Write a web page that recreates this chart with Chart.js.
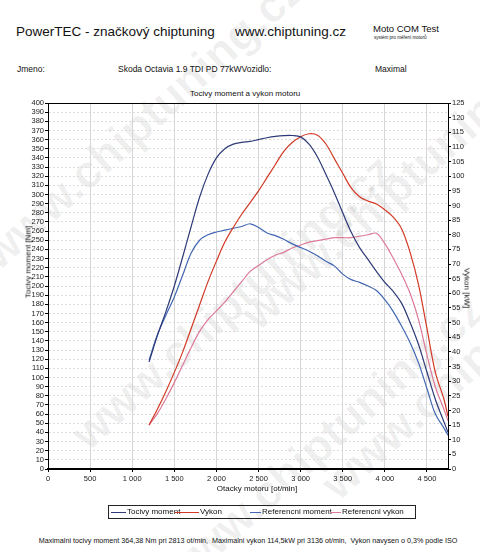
<!DOCTYPE html>
<html>
<head>
<meta charset="utf-8">
<script src="https://cdn.jsdelivr.net/npm/chart.js@4.4.1/dist/chart.umd.min.js"></script>
<style>
  html, body { margin: 0; padding: 0; background: #fff; }
  body { width: 480px; height: 552px; position: relative; overflow: hidden; font-family: Arial, "Liberation Sans", sans-serif; color: #111; }
  .t { position: absolute; white-space: nowrap; }
  .wm { position: absolute; white-space: nowrap; font-weight: bold; font-size: 46px; color: rgba(0,0,0,0.06); transform: rotate(-42deg); transform-origin: left top; }
  #wrap { position: absolute; left: 0; top: 88px; width: 480px; height: 410px; }
  .legend { position: absolute; left: 108px; top: 505px; width: 306px; height: 12px; border: 1px solid #222; font-size: 8px; }
  .legend span { position: absolute; top: 1px; }
  .legend i { position: absolute; top: 6px; height: 0; border-top: 1.5px solid; }
</style>
</head>
<body>
<div class="wm" style="left:-30px; top:240px;">www.chiptuning.cz</div>
<div class="wm" style="left:60px; top:420px;">www.chiptuning.cz</div>
<div class="wm" style="left:150px; top:560px;">www.chiptuning.cz</div>
<div class="wm" style="left:230px; top:300px;">www.chiptuning.cz</div>
<div class="wm" style="left:310px; top:470px;">www.chiptuning.cz</div>

<div class="t" style="left:16px; top:24px; font-size:13.5px;">PowerTEC - značkový chiptuning</div>
<div class="t" style="left:235px; top:24px; font-size:13.5px;">www.chiptuning.cz</div>
<div class="t" style="left:373px; top:23px; font-size:9.5px;">Moto COM Test</div>
<div class="t" style="left:374px; top:35px; font-size:4.5px;">systém pro měření motorů</div>
<div class="t" style="left:17px; top:64px; font-size:8.5px;">Jmeno:</div>
<div class="t" style="left:118px; top:64px; font-size:8.5px;">Skoda Octavia 1.9 TDI PD 77kWVozidlo:</div>
<div class="t" style="left:375px; top:64px; font-size:8.5px;">Maximal</div>
<div class="t" style="left:190px; top:89px; font-size:8px;">Tocivy moment a vykon motoru</div>

<div id="wrap"><canvas id="dyno"></canvas></div>

<div class="t" style="left:28px; top:262px; font-size:8px; transform:translate(-50%,-50%) rotate(-90deg);">Tocivy moment [Nm]</div>
<div class="t" style="left:467px; top:288px; font-size:8px; transform:translate(-50%,-50%) rotate(90deg);">Vykon [kW]</div>
<div class="t" style="left:257px; top:484px; font-size:8px; transform:translateX(-50%);">Otacky motoru [ot/min]</div>

<div class="legend">
  <i style="left:2px; width:15px; border-color:#2e3b78;"></i><span style="left:18px;">Tocivy moment</span>
  <i style="left:66px; width:24px; border-color:#d23a26;"></i><span style="left:91px;">Vykon</span>
  <i style="left:141px; width:11px; border-color:#4267b2;"></i><span style="left:153px;">Referencni moment</span>
  <i style="left:221px; width:11px; border-color:#dc7a98;"></i><span style="left:233px;">Referencni vykon</span>
</div>

<div class="t" style="left:248px; top:536px; font-size:7.2px; transform:translateX(-50%);">Maximalni tocivy moment 364,38 Nm pri 2813 ot/min,&nbsp; Maximalni vykon 114,5kW pri 3136 ot/min,&nbsp; Vykon navysen o 0,3% podle ISO</div>

<script>
const rpm = [1200, 1300, 1400, 1500, 1600, 1700, 1800, 1900, 2000, 2100, 2200, 2300, 2400, 2500, 2600, 2700, 2800, 2900, 3000, 3100, 3200, 3300, 3400, 3500, 3600, 3700, 3800, 3900, 4000, 4100, 4200, 4300, 4400, 4500, 4600, 4700, 4750];

const torque = [117, 146, 172, 200, 232, 265, 297, 322, 340, 350, 355, 357, 358, 360, 362, 363.5, 364.4, 364.5, 363, 355, 341, 322, 302, 280, 259, 242, 229, 216, 204, 194, 181, 160, 136, 106, 76, 52, 40];
const power = [15, 20.5, 26.5, 33, 40, 48, 56, 64, 71, 77.5, 82.5, 87, 91, 95, 99.5, 104, 108.5, 111.5, 113.5, 114.5, 114, 111, 106, 101, 96, 93, 91.5, 90.5, 88.5, 86, 82, 74, 63, 48, 33, 24, 18];
const refTorque = [119, 147, 168, 188, 212, 236, 250, 256, 259, 261, 263, 265, 268, 264, 258, 255, 251, 246, 242, 238, 233, 227, 222, 213, 207, 204, 200, 195, 185, 172, 156, 138, 116, 88, 60, 45, 37];
const refPower = [15, 19, 24, 29.5, 35.5, 41.5, 47, 51, 54, 57, 60.5, 64, 67.5, 69.5, 71.5, 73, 74, 75.5, 76.5, 77.5, 78, 78.5, 79, 79, 79, 79.5, 80, 80.5, 77, 72, 66.5, 60, 51, 39, 28, 20.5, 16.5];

const rpmTickValues = [0, 500, 1000, 1500, 2000, 2500, 3000, 3500, 4000, 4500];
const rpmMax = 4750;
const nmTicks = { min: 0, max: 400, step: 10 };
const kwTicks = { min: 0, max: 125, step: 5 };

const pts = (ys) => rpm.map((r, i) => ({ x: r, y: ys[i] }));

const tickFont = { family: 'Arial, "Liberation Sans", sans-serif', size: 7.5 };

// "1 000" style labels
function rpmLabel(v) {
    return v >= 1000 ? Math.floor(v / 1000) + ' ' + String(v % 1000).padStart(3, '0') : String(v);
}

const frame = {
    id: 'frame',
    afterDraw(chart) {
        const { ctx, chartArea: a } = chart;
        ctx.save();
        ctx.strokeStyle = '#000';
        ctx.lineWidth = 1;
        ctx.strokeRect(a.left + 0.5, a.top + 0.5, a.right - a.left, a.bottom - a.top);
        ctx.lineWidth = 2;
        ctx.beginPath();
        ctx.moveTo(a.left, a.bottom);
        ctx.lineTo(a.right, a.bottom);
        ctx.stroke();
        ctx.restore();
    }
};

new Chart(document.getElementById('dyno'), {
    type: 'line',
    data: {
        datasets: [
            { label: 'Tocivy moment', data: pts(torque), borderColor: '#2e3b78', yAxisID: 'y' },
            { label: 'Vykon', data: pts(power), borderColor: '#d23a26', yAxisID: 'y1' },
            { label: 'Referencni moment', data: pts(refTorque), borderColor: '#4267b2', yAxisID: 'y' },
            { label: 'Referencni vykon', data: pts(refPower), borderColor: '#dc7a98', yAxisID: 'y1' },
        ]
    },
    options: {
        responsive: true,
        maintainAspectRatio: false,
        animation: false,
        layout: { padding: { top: 15, left: 0, right: 0, bottom: 0 } },
        elements: {
            line: { borderWidth: 1.2, tension: 0.35, fill: false },
            point: { radius: 0 }
        },
        plugins: { legend: { display: false }, tooltip: { enabled: false } },
        scales: {
            x: {
                type: 'linear',
                min: 0,
                max: rpmMax,
                // the 4750 max would otherwise make chart.js space ticks by 475
                afterBuildTicks: (s) => { s.ticks = rpmTickValues.map(v => ({ value: v })); },
                afterFit: (s) => { s.height = 29; },
                ticks: { font: tickFont, color: '#222', padding: 2, maxRotation: 0, autoSkip: false, callback: rpmLabel },
                grid: { color: '#d6d6d6', tickLength: 3, tickColor: '#000' },
                border: { color: '#000', width: 2 }
            },
            y: {
                position: 'left',
                min: nmTicks.min,
                max: nmTicks.max,
                afterFit: (s) => { s.width = 48; },
                ticks: { stepSize: nmTicks.step, font: tickFont, color: '#222', padding: 1, autoSkip: false },
                grid: { color: '#dcdcdc', tickLength: 3, tickColor: '#000' },
                border: { color: '#000', dash: [2, 2] }
            },
            y1: {
                position: 'right',
                min: kwTicks.min,
                max: kwTicks.max,
                afterFit: (s) => { s.width = 32; },
                ticks: { stepSize: kwTicks.step, font: tickFont, color: '#222', padding: 1, autoSkip: false },
                grid: { drawOnChartArea: false, tickLength: 3, tickColor: '#000' },
                border: { color: '#000' }
            }
        }
    },
    plugins: [frame]
});
</script>
</body>
</html>
